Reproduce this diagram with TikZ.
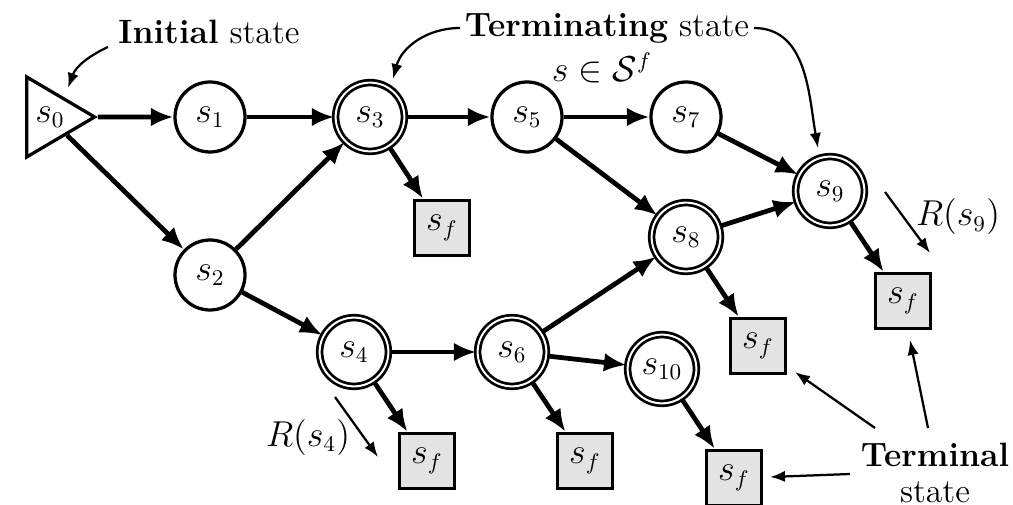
\documentclass[tikz,border=0pt]{standalone}
\usetikzlibrary{arrows.meta,shapes.geometric}
\begin{document}
\begin{tikzpicture}[x=0.4pt,y=-0.4pt,
  every node/.style={font=\fontsize{13.5}{16}\selectfont},
  st/.style={circle,draw,line width=1.3pt,minimum size=28pt,inner sep=0pt,fill=white},
  term/.style={circle,draw,line width=1.1pt,double,double distance=0.8pt,minimum size=27.5pt,inner sep=0pt,fill=white},
  fin/.style={rectangle,draw,line width=1.4pt,fill=gray!22,minimum size=22pt,inner sep=0pt},
  edge/.style={line width=1.9pt,-{Latex[length=9pt,width=7.5pt]}},
  ann/.style={line width=0.9pt,-{Latex[length=6pt,width=4.5pt]}},
  lbl/.style={inner sep=1pt}]
\useasboundingbox (0,0) rectangle (1013,505);
% states
\node[isosceles triangle,isosceles triangle apex angle=61,draw,line width=1.3pt,
      minimum height=27.2pt,inner sep=0pt,anchor=west,fill=white] (s0) at (25,117) {\phantom{$s_0$}};
\node[inner sep=0pt] (s0t) at (50,117) {$s_0$};
\node[st] (s1) at (210,117) {$s_1$};
\node[st] (s2) at (210,275) {$s_2$};
\node[term] (s3) at (370,117) {$s_3$};
\node[term] (s4) at (354,352) {$s_4$};
\node[st] (s5) at (527,117) {$s_5$};
\node[term] (s6) at (512,352) {$s_6$};
\node[st] (s7) at (686,117) {$s_7$};
\node[term] (s8) at (686,237) {$s_8$};
\node[term] (s9) at (830,191) {$s_9$};
\node[term] (s10) at (662,369) {$s_{10}$};
\node[fin] (f3) at (442,228) {$s_f$};
\node[fin] (f4) at (427,461) {$s_f$};
\node[fin] (f6) at (585,461) {$s_f$};
\node[fin] (f8) at (758,346) {$s_f$};
\node[fin] (f9) at (903,301) {$s_f$};
\node[fin] (f10) at (734,478) {$s_f$};
% edges
\draw[edge] (s0) -- (s1);
\draw[edge] (s0) -- (s2);
\draw[edge] (s1) -- (s3);
\draw[edge] (s2) -- (s3);
\draw[edge] (s2) -- (s4);
\draw[edge] (s3) -- (s5);
\draw[edge] (s3) -- (f3);
\draw[edge] (s5) -- (s7);
\draw[edge] (s5) -- (s8);
\draw[edge] (s7) -- (s9);
\draw[edge] (s8) -- (s9);
\draw[edge] (s8) -- (f8);
\draw[edge] (s9) -- (f9);
\draw[edge] (s4) -- (s6);
\draw[edge] (s4) -- (f4);
\draw[edge] (s6) -- (s8);
\draw[edge] (s6) -- (s10);
\draw[edge] (s6) -- (f6);
\draw[edge] (s10) -- (f10);
% labels
\node[lbl] (linit) at (209,32) {\textbf{Initial} state};
\node[lbl] (lterm) at (607,28) {\textbf{Terminating} state};
\node[lbl] (lset) at (602,68) {$s\in\mathcal{S}^f$};
\node[lbl] (lr9) at (958,217) {$R(s_9)$};
\node[lbl] (lr4) at (308,437) {$R(s_4)$};
\node[lbl] (lt1) at (935,455) {\textbf{Terminal}};
\node[lbl] (lt2) at (935,492) {state};
% annotation coordinates
\coordinate (ai0) at (108,47);
\coordinate (ai1) at (68,88);
\coordinate (at0) at (460,28);
\coordinate (at1) at (393,79);
\coordinate (at2) at (754,28);
\coordinate (at3) at (818,148);
\coordinate (ar90) at (885,192);
\coordinate (ar91) at (930,253);
\coordinate (ar40) at (335,397);
\coordinate (ar41) at (378,457);
\coordinate (ta0) at (875,428);
\coordinate (ta1) at (795,372);
\coordinate (tb0) at (928,428);
\coordinate (tb1) at (910,340);
\coordinate (tc0) at (850,474);
\coordinate (tc1) at (770,477);
\draw[ann] (ai0) to[out=205,in=70] (ai1);
\draw[ann] (at0) to[out=180,in=75] (at1);
\draw[ann] (at2) to[out=0,in=100] (at3);
\draw[ann] (ar90) -- (ar91);
\draw[ann] (ar40) -- (ar41);
\draw[ann] (ta0) -- (ta1);
\draw[ann] (tb0) -- (tb1);
\draw[ann] (tc0) -- (tc1);
\end{tikzpicture}
\end{document}
